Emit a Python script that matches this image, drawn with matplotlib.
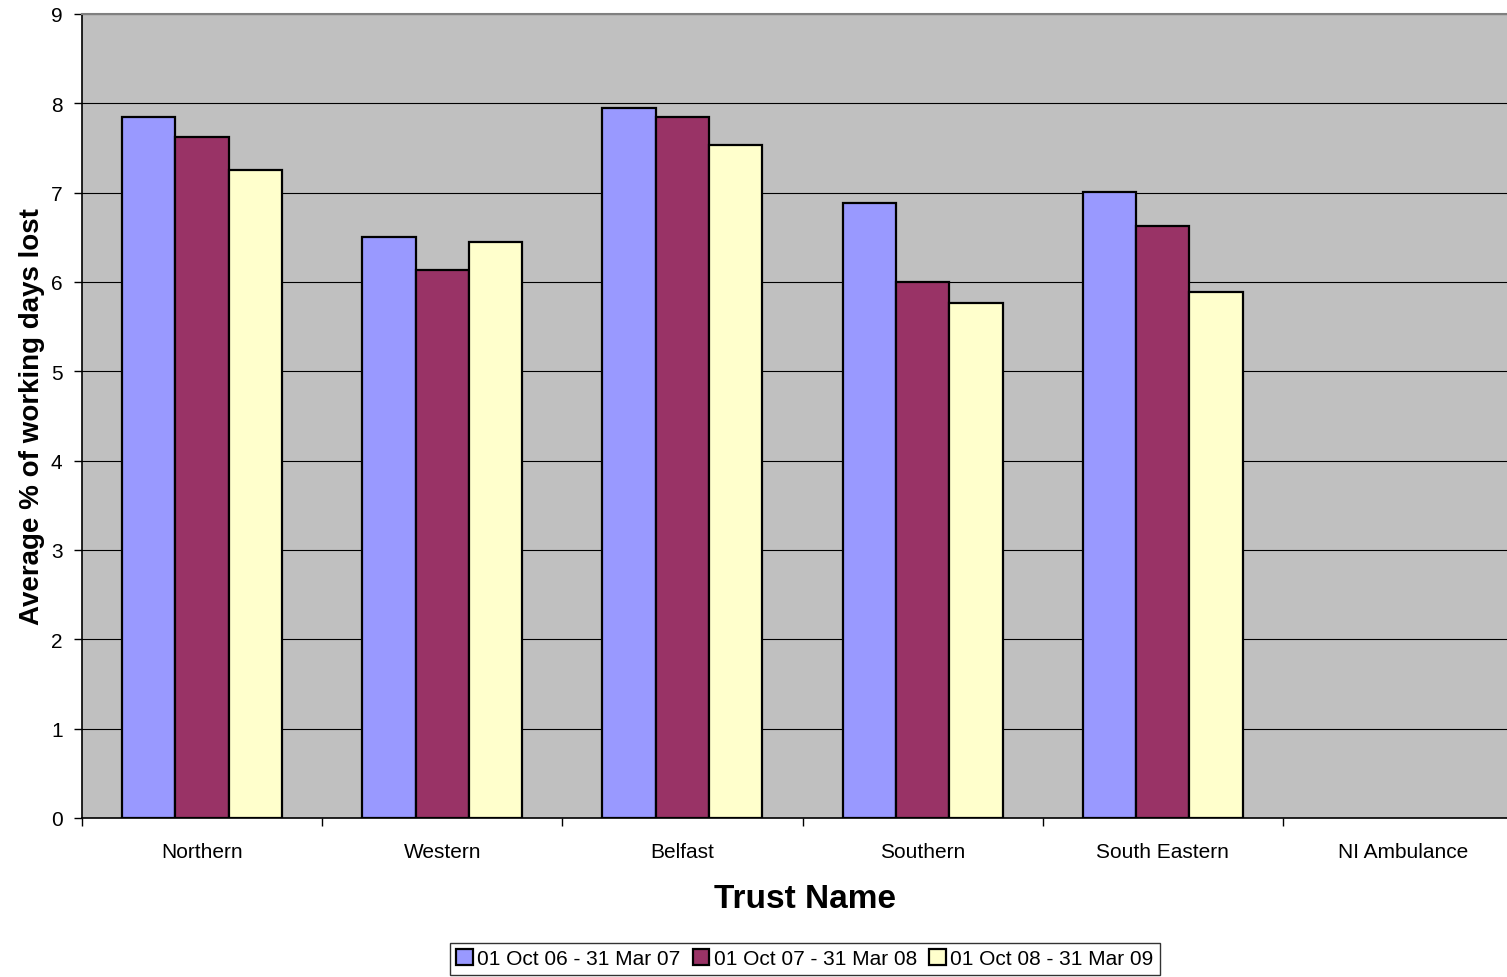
import matplotlib
matplotlib.use("Agg")
import matplotlib.pyplot as plt
import numpy as np

plt.rcParams['font.family'] = ['Liberation Sans', 'DejaVu Sans']

categories = ["Northern", "Western", "Belfast", "Southern", "South Eastern", "NI Ambulance"]
series_names = ["01 Oct 06 - 31 Mar 07", "01 Oct 07 - 31 Mar 08", "01 Oct 08 - 31 Mar 09"]
s1 = [7.85, 6.50, 7.95, 6.88, 7.01, np.nan]
s2 = [7.62, 6.13, 7.85, 6.00, 6.63, np.nan]
s3 = [7.25, 6.45, 7.53, 5.77, 5.89, np.nan]
colors = ["#9999FF", "#993366", "#FFFFCC"]

fig = plt.figure(figsize=(15.07, 9.78), dpi=100)
ax = fig.add_axes([82/1507, 1-819/978, (1523-82)/1507, (819-15)/978])
ax.set_facecolor("#C0C0C0")

x = np.arange(len(categories))
w = 0.222
for i, (vals, c, n) in enumerate(zip([s1, s2, s3], colors, series_names)):
    ax.bar(x + (i - 1) * w, vals, width=w, color=c, edgecolor="black",
           linewidth=1.6, label=n, zorder=3)

ax.set_xlim(-0.5, len(categories) - 0.5)
ax.set_ylim(0, 9)
ax.set_yticks(range(0, 10))
ax.yaxis.grid(True, color="black", linewidth=0.8, zorder=1)
ax.set_axisbelow(True)

ax.set_xticks(x)
ax.set_xticklabels(categories, fontsize=15)
ax.set_xticks(np.arange(-0.5, len(categories) + 0.5, 1), minor=True)
ax.tick_params(axis='x', which='major', length=0, pad=17)
ax.tick_params(axis='x', which='minor', length=6, width=1, direction='out')
ax.tick_params(axis='y', length=6, width=1, direction='out', labelsize=15, pad=8)

ax.spines['right'].set_visible(False)
ax.spines['top'].set_color('#808080')
ax.spines['top'].set_linewidth(1.5)
ax.spines['left'].set_linewidth(1.2)
ax.spines['bottom'].set_linewidth(1.2)

ax.set_ylabel("Average % of working days lost", fontsize=20, fontweight='bold', labelpad=4)
fig.text(0.534, 1 - 900/978, "Trust Name", fontsize=24, fontweight='bold', ha='center', va='center')

leg = fig.legend(loc='upper center', bbox_to_anchor=(0.534, 1 - 944/978), ncol=3,
                 fontsize=15, frameon=True, fancybox=False, edgecolor='black',
                 handlelength=0.8, handleheight=0.8, handletextpad=0.2,
                 columnspacing=0.6, borderpad=0.3, borderaxespad=0)
leg.get_frame().set_linewidth(1.0)

fig.savefig("out.png", dpi=100)
